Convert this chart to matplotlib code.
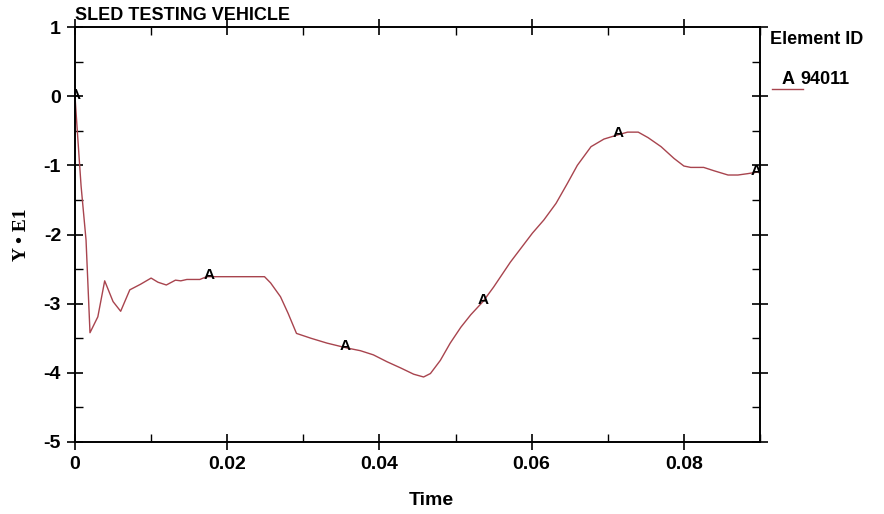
import numpy as np
import matplotlib
matplotlib.use("Agg")
import matplotlib.pyplot as plt
from matplotlib.ticker import MultipleLocator

plt.rcParams["axes.unicode_minus"] = False

# ── data ─────────────────────────────────────────────────────────────
time = [0.0, 0.0003, 0.0008, 0.00145, 0.00197, 0.003, 0.0039, 0.005, 0.006,
        0.0072, 0.0086, 0.010, 0.0109, 0.012, 0.0132, 0.0139, 0.0147, 0.0164,
        0.0173, 0.0249, 0.0257, 0.027, 0.028, 0.0291, 0.031, 0.0331, 0.0357,
        0.0375, 0.0392, 0.041, 0.0428, 0.0445, 0.0458, 0.0467, 0.048, 0.0493,
        0.0507, 0.052, 0.0536, 0.055, 0.0572, 0.0601, 0.0616, 0.0632, 0.0647,
        0.066, 0.0678, 0.0695, 0.0713, 0.0726, 0.074, 0.0753, 0.077, 0.0787,
        0.080, 0.0809, 0.0826, 0.084, 0.0858, 0.0871, 0.0884, 0.0901]
y_e1 = [0.0, -0.5, -1.3, -2.08, -3.42, -3.19, -2.67, -2.97, -3.11,
        -2.80, -2.72, -2.63, -2.69, -2.73, -2.66, -2.67, -2.65, -2.65,
        -2.61, -2.61, -2.70, -2.90, -3.14, -3.43, -3.50, -3.57, -3.64,
        -3.68, -3.74, -3.84, -3.93, -4.02, -4.06, -4.01, -3.82, -3.57,
        -3.34, -3.16, -2.97, -2.76, -2.40, -1.98, -1.79, -1.55, -1.26,
        -1.00, -0.73, -0.62, -0.56, -0.52, -0.52, -0.60, -0.73, -0.90,
        -1.01, -1.03, -1.03, -1.08, -1.14, -1.14, -1.12, -1.09]
marker_t = [0.0, 0.0176, 0.0355, 0.0536, 0.0714, 0.0895]
element_id = "94011"

LINE = "#a8444e"
SANS = ["Liberation Sans Narrow", "Liberation Sans", "DejaVu Sans"]

fig = plt.figure(figsize=(8.84, 5.14), dpi=100)
ax = fig.add_axes([75 / 884, 1 - 442 / 514, 685 / 884, 415 / 514])

ax.plot(time, y_e1, color=LINE, lw=1.0)
for t in marker_t:
    ax.text(t, np.interp(t, time, y_e1) - 0.08, "A", ha="center", va="bottom",
            fontsize=11, fontweight="bold", family=SANS, clip_on=True)

ax.set_xlim(0, 0.09)
ax.set_ylim(-5, 1)
ax.xaxis.set_minor_locator(MultipleLocator(0.01))
ax.yaxis.set_major_locator(MultipleLocator(1))
ax.yaxis.set_minor_locator(MultipleLocator(0.5))
ax.set_xticks([0, 0.02, 0.04, 0.06, 0.08])
ax.set_xticklabels(["0", "0.02", "0.04", "0.06", "0.08"])

ax.tick_params(which="major", direction="inout", length=12, width=1.2,
               top=True, right=True, labelsize=14, pad=4)
ax.tick_params(which="minor", direction="in", length=6, width=1.0,
               top=True, right=True)
for lab in ax.get_xticklabels() + ax.get_yticklabels():
    lab.set_fontweight("bold")
    lab.set_family(SANS)
for sp in ax.spines.values():
    sp.set_linewidth(1.4)

ax.set_xlabel("Time", fontsize=14, fontweight="bold", family=SANS)
ax.xaxis.set_label_coords((431 - 75) / 685, -0.12)
ax.set_ylabel("Y \u2022 E1", fontsize=14, fontweight="bold",
              family=["Liberation Serif", "DejaVu Serif"], labelpad=10)

fig.text(75 / 884, 1 - 15 / 514, "SLED TESTING VEHICLE", fontsize=13,
         fontweight="bold", family=SANS, va="center", ha="left")

# legend block on the right
fig.text(770 / 884, 1 - 40 / 514, "Element ID", fontsize=13,
         fontweight="bold", family=SANS, va="center", ha="left")
fig.text(788 / 884, 1 - 80 / 514, "A", fontsize=13, fontweight="bold",
         family=SANS, va="center", ha="center")
fig.text(800 / 884, 1 - 80 / 514, element_id, fontsize=13,
         fontweight="bold", family=SANS, va="center", ha="left")
fig.add_artist(plt.Line2D([772 / 884, 803 / 884], [1 - 89 / 514, 1 - 89 / 514],
                          color=LINE, lw=1.0))

fig.savefig("out.png", dpi=100)
